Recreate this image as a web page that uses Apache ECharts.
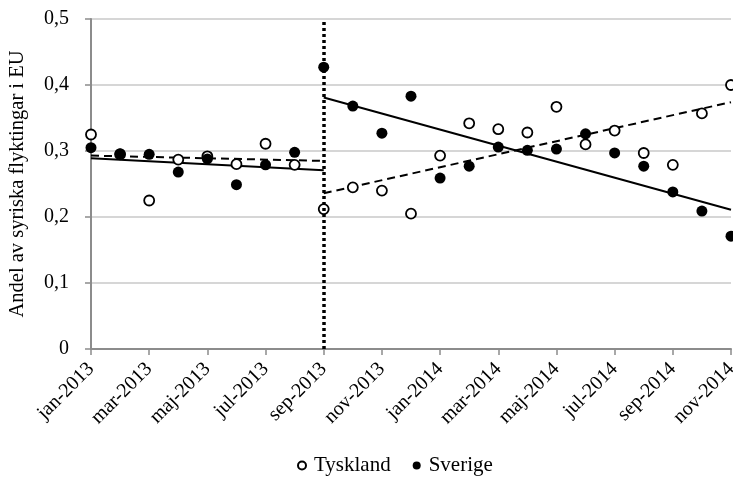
<!DOCTYPE html>
<html>
<head>
<meta charset="utf-8">
<script src="https://cdn.jsdelivr.net/npm/echarts@6/dist/echarts.min.js"></script>
<style>html,body{margin:0;padding:0;background:#fff}#c{width:733px;height:477px}</style>
</head>
<body>
<div id="c"></div>
<script>
const categories = ['jan-2013','feb-2013','mar-2013','apr-2013','maj-2013','jun-2013','jul-2013','aug-2013','sep-2013','okt-2013','nov-2013','dec-2013','jan-2014','feb-2014','mar-2014','apr-2014','maj-2014','jun-2014','jul-2014','aug-2014','sep-2014','okt-2014','nov-2014'];
const tyskland = [0.325,0.295,0.225,0.287,0.292,0.280,0.311,0.279,0.212,0.245,0.240,0.205,0.293,0.342,0.333,0.328,0.367,0.310,0.331,0.297,0.279,0.357,0.400];
const sverige  = [0.305,0.296,0.295,0.268,0.288,0.249,0.279,0.298,0.427,0.368,0.327,0.383,0.259,0.277,0.306,0.301,0.303,0.326,0.297,0.277,0.238,0.209,0.171];
const trendSverigePre  = [[0,0.289],[8,0.271]];
const trendTysklandPre = [[0,0.293],[8,0.285]];
const trendSverigePost  = [[8,0.381],[22,0.211]];
const trendTysklandPost = [[8,0.236],[22,0.374]];
const breakCategory = 'sep-2013';
const yTicks = [0,0.1,0.2,0.3,0.4,0.5];

const serif = 'Liberation Serif';
const chart = echarts.init(document.getElementById('c'));
chart.setOption({
  animation:false,
  grid:{left:91,right:2,top:19,bottom:128,containLabel:false,outerBoundsMode:'none'},
  legend:{
    top:450, left:292, itemGap:22, itemWidth:8, itemHeight:8,
    textStyle:{fontFamily:serif,fontSize:21,color:'#000',padding:[0,0,0,3]},
    data:[{name:'Tyskland',icon:'circle'},{name:'Sverige',icon:'circle'}]
  },
  xAxis:{
    type:'category', data:categories, boundaryGap:false,
    axisLine:{lineStyle:{color:'#8c8c8c',width:2}},
    axisTick:{interval:1,length:6,lineStyle:{color:'#8c8c8c',width:1.5}},
    axisLabel:{interval:1,rotate:45,margin:17,fontFamily:serif,fontSize:20,color:'#000'},
    splitLine:{show:false}
  },
  yAxis:{
    type:'value', min:0, max:0.5, interval:0.1,
    name:'Andel av syriska flyktingar i EU', nameLocation:'middle', nameGap:63,
    nameTextStyle:{fontFamily:serif,fontSize:20.5,color:'#000'},
    axisLine:{show:true,lineStyle:{color:'#8c8c8c',width:2}},
    axisTick:{show:true,length:6,lineStyle:{color:'#8c8c8c',width:1.5}},
    axisLabel:{margin:22,fontFamily:serif,fontSize:20,color:'#000',
      formatter:v=> v===0 ? '0' : v.toFixed(1).replace('.',',')},
    splitLine:{lineStyle:{color:'#c8c8c8',width:1.5}}
  },
  series:[
    {name:'Tyskland',type:'scatter',data:tyskland,symbol:'circle',symbolSize:10,z:3,
     itemStyle:{color:'#fff',borderColor:'#000',borderWidth:1.8,opacity:1},
     markLine:{silent:true,symbol:'none',label:{show:false},
       lineStyle:{color:'#000',width:3.5,type:[3,3]},
       data:[{xAxis:breakCategory}]}},
    {name:'Sverige',type:'scatter',data:sverige,symbol:'circle',symbolSize:11,z:4,
     itemStyle:{color:'#000',opacity:1}},
    {type:'line',data:trendSverigePre,showSymbol:false,symbol:'none',z:2,lineStyle:{color:'#000',width:2}},
    {type:'line',data:trendSverigePost,showSymbol:false,symbol:'none',z:2,lineStyle:{color:'#000',width:2}},
    {type:'line',data:trendTysklandPre,showSymbol:false,symbol:'none',z:2,lineStyle:{color:'#000',width:2,type:[8,5]}},
    {type:'line',data:trendTysklandPost,showSymbol:false,symbol:'none',z:2,lineStyle:{color:'#000',width:2,type:[8,5]}}
  ]
});
</script>
</body>
</html>
